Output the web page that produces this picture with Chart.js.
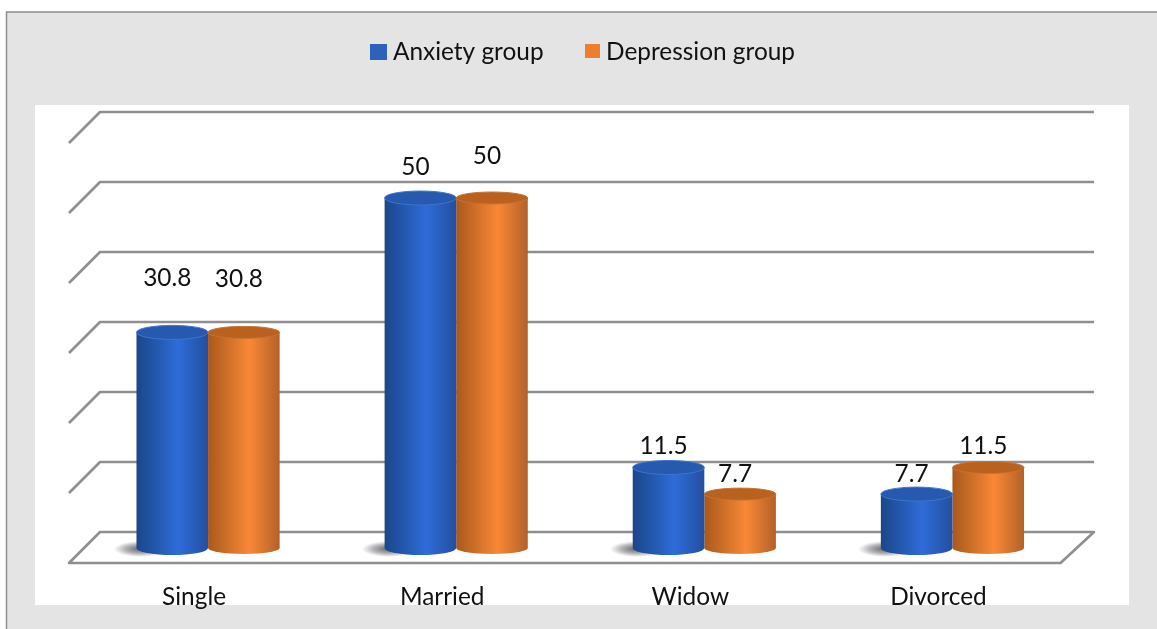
<!DOCTYPE html>
<html>
<head>
<meta charset="utf-8">
<title>Marital status by group</title>
<script src="https://cdn.jsdelivr.net/npm/chart.js@4"></script>
<style>
    html, body { margin: 0; padding: 0; background: #fff; }
    #chartBox { width: 1157px; height: 629px; }
</style>
</head>
<body>
<div id="chartBox"><canvas id="statusChart"></canvas></div>
<script>
const categories = ["Single", "Married", "Widow", "Divorced"];
const anxietyValues = [30.8, 50, 11.5, 7.7];
const depressionValues = [30.8, 50, 7.7, 11.5];
const axisTicks = [0, 10, 20, 30, 40, 50, 60];

// How far each value label sits above its column top, per series
const anxietyLabelLift = [54, 31, 21, 20];
const depressionLabelLift = [53, 42, 20, 21];

const FONT = "Lato, Carlito, sans-serif";
const TEXT_SIZE = 24.4;
const TEXT_COLOR = "#111";

const blueRamp = { edge: "#1b4689", mid: "#2e6cd8", end: "#234f9f", cap: "#2759ae", rim: "#3a76d2", key: "#2d62b8", capRy: 7 };
const orangeRamp = { edge: "#a9591c", mid: "#f98836", end: "#b36128", cap: "#b9621f", rim: "#c97230", key: "#ed7d31", capRy: 6 };

function sideGradient(ctx, left, right, ramp) {
    const g = ctx.createLinearGradient(left, 0, right, 0);
    g.addColorStop(0, ramp.edge);
    g.addColorStop(0.58, ramp.mid);
    g.addColorStop(1, ramp.end);
    return g;
}

// Column fill, worked out from the category scale so it follows the bar
function columnFill(ramp, seriesIndex) {
    return (context) => {
        if (context.dataIndex === undefined || !context.chart.chartArea) return ramp.key;
        const x = context.chart.scales.x;
        const w = (x.width / categories.length) * 0.577 / 2;
        const left = x.getPixelForValue(context.dataIndex) + (seriesIndex - 1) * w;
        return sideGradient(context.chart.ctx, left, left + w, ramp);
    };
}

function ellipse(ctx, cx, cy, rx, ry) {
    ctx.beginPath();
    ctx.ellipse(cx, cy, rx, ry, 0, 0, Math.PI * 2);
}

// Grey panel with the white plot window inside it
const panelPlugin = {
    id: "panel",
    beforeDraw(chart) {
        const ctx = chart.ctx;
        ctx.save();
        ctx.fillStyle = "#fff";
        ctx.fillRect(0, 0, chart.width, chart.height);
        ctx.fillStyle = "#e4e4e4";
        ctx.fillRect(6, 12, chart.width - 6, chart.height - 12);
        ctx.fillStyle = "#fff";
        ctx.fillRect(35, 105, 1094, 500);
        ctx.strokeStyle = "#8c8c8c";
        ctx.lineWidth = 1.5;
        ctx.beginPath();
        ctx.moveTo(6.5, chart.height);
        ctx.lineTo(6.5, 12);
        ctx.lineTo(chart.width, 12);
        ctx.stroke();
        ctx.restore();
    }
};

// Receding back wall and floor, placed from the value scale
const wallPlugin = {
    id: "wall",
    beforeDatasetsDraw(chart) {
        const ctx = chart.ctx;
        const y = chart.scales.y;
        const area = chart.chartArea;
        const backLeft = area.left + 16, backRight = area.right + 17.5;
        const frontLeft = area.left - 15, frontRight = area.right - 16;
        const lift = 16, drop = 15;
        ctx.save();
        ctx.strokeStyle = "#8f8f8f";
        ctx.lineWidth = 2.6;
        ctx.lineJoin = "round";
        ctx.lineCap = "butt";
        y.ticks.forEach((tick) => {
            const py = y.getPixelForValue(tick.value) - lift;
            ctx.beginPath();
            ctx.moveTo(frontLeft, py + lift + drop);
            ctx.lineTo(backLeft, py);
            ctx.lineTo(backRight, py);
            if (tick.value === 0) {
                ctx.lineTo(frontRight, py + lift + drop);
                ctx.closePath();
            }
            ctx.stroke();
        });
        ctx.restore();

        // Contact shadows and the rounded lower ends of the columns
        ctx.save();
        chart.getDatasetMeta(0).data.forEach((bar) => {
            const cx = bar.x - bar.width / 2 + 4, cy = bar.base + 1;
            ctx.save();
            ctx.translate(cx, cy);
            ctx.scale(1, 8 / 27);
            const g = ctx.createRadialGradient(0, 0, 2, 0, 0, 27);
            g.addColorStop(0, "rgba(70,70,80,0.8)");
            g.addColorStop(0.55, "rgba(90,90,100,0.45)");
            g.addColorStop(1, "rgba(120,120,130,0)");
            ctx.fillStyle = g;
            ellipse(ctx, 0, 0, 27, 27);
            ctx.fill();
            ctx.restore();
        });
        [[0, blueRamp], [1, orangeRamp]].forEach(([index, ramp]) => {
            chart.getDatasetMeta(index).data.forEach((bar) => {
                const half = bar.width / 2;
                ctx.fillStyle = sideGradient(ctx, bar.x - half, bar.x + half, ramp);
                ellipse(ctx, bar.x, bar.base, half, ramp.capRy);
                ctx.fill();
            });
        });
        ctx.restore();
    },
    afterDatasetsDraw(chart) {
        const ctx = chart.ctx;
        ctx.save();
        [[0, blueRamp], [1, orangeRamp]].forEach(([index, ramp]) => {
            chart.getDatasetMeta(index).data.forEach((bar) => {
                ellipse(ctx, bar.x, bar.y, bar.width / 2, ramp.capRy);
                ctx.fillStyle = ramp.cap;
                ctx.fill();
                ctx.strokeStyle = ramp.rim;
                ctx.lineWidth = 1;
                ctx.stroke();
            });
        });
        ctx.restore();
    }
};

// Value labels above the columns
const valueLabelPlugin = {
    id: "valueLabels",
    afterDraw(chart) {
        const ctx = chart.ctx;
        const lifts = [anxietyLabelLift, depressionLabelLift];
        ctx.save();
        ctx.font = TEXT_SIZE + "px " + FONT;
        ctx.fillStyle = TEXT_COLOR;
        ctx.textAlign = "center";
        ctx.textBaseline = "middle";
        chart.data.datasets.forEach((ds, d) => {
            chart.getDatasetMeta(d).data.forEach((bar, i) => {
                ctx.fillText(String(ds.data[i]), bar.x - 5, bar.y - lifts[d][i]);
            });
        });
        ctx.restore();
    }
};

// Legend row: square key, short gap, series name
const legendPlugin = {
    id: "keyRow",
    afterDraw(chart) {
        const ctx = chart.ctx;
        const keys = [[370, 17, blueRamp], [585, 15, orangeRamp]];
        ctx.save();
        ctx.font = TEXT_SIZE + "px " + FONT;
        ctx.textBaseline = "middle";
        chart.data.datasets.forEach((ds, d) => {
            const [x, size, ramp] = keys[d];
            ctx.fillStyle = ramp.key;
            ctx.fillRect(x, 44, size, size - 1);
            ctx.fillStyle = TEXT_COLOR;
            ctx.fillText(ds.label, x + size + 6, 52);
        });
        ctx.restore();
    }
};

new Chart(document.getElementById("statusChart"), {
    type: "bar",
    data: {
        labels: categories,
        datasets: [
            { label: "Anxiety group", data: anxietyValues, backgroundColor: columnFill(blueRamp, 0) },
            { label: "Depression group", data: depressionValues, backgroundColor: columnFill(orangeRamp, 1) }
        ]
    },
    plugins: [panelPlugin, wallPlugin, valueLabelPlugin, legendPlugin],
    options: {
        responsive: true,
        maintainAspectRatio: false,
        animation: false,
        layout: { padding: { left: 84, right: 80.5, top: 128, bottom: 0 } },
        datasets: { bar: { categoryPercentage: 0.577, barPercentage: 1, borderWidth: 0 } },
        plugins: { legend: { display: false }, tooltip: { enabled: false } },
        scales: {
            x: {
                grid: { display: false, drawTicks: false },
                border: { display: false },
                afterFit(scale) { scale.height = 81; },
                ticks: {
                    color: TEXT_COLOR,
                    font: { family: FONT, size: TEXT_SIZE },
                    padding: 35,
                    labelOffset: -14,
                    maxRotation: 0
                }
            },
            y: {
                min: axisTicks[0],
                max: axisTicks[axisTicks.length - 1],
                grid: { display: false, drawTicks: false },
                border: { display: false },
                ticks: { display: false, stepSize: axisTicks[1] - axisTicks[0] }
            }
        }
    }
});
</script>
</body>
</html>
